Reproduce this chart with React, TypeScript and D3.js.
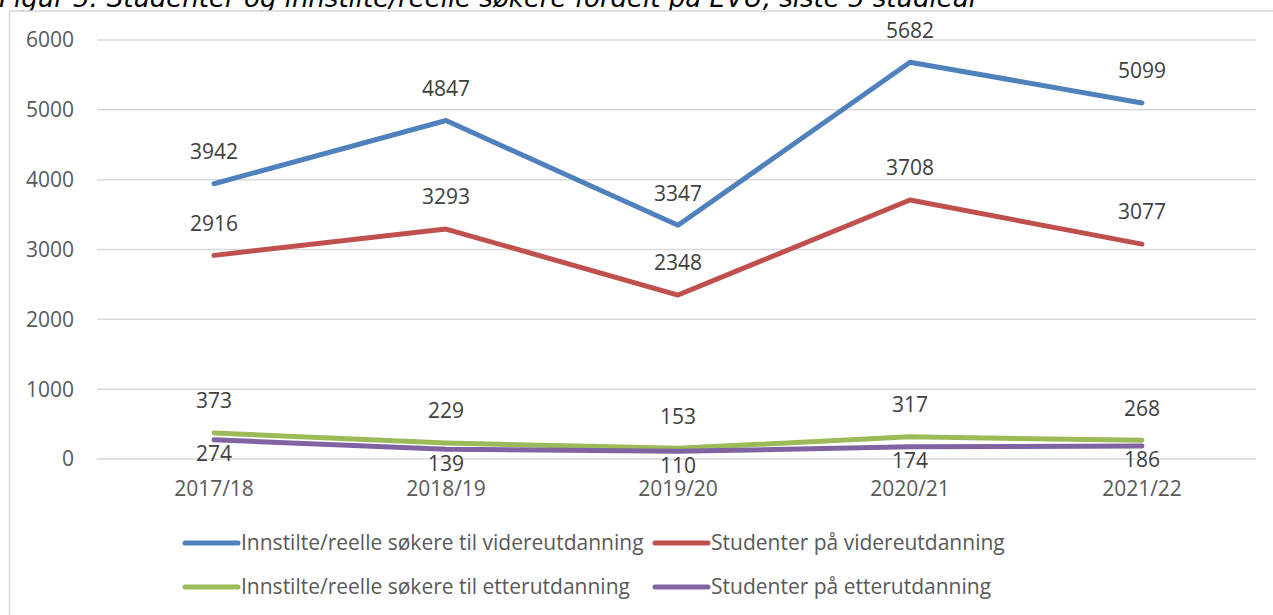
import React from "react";
import * as d3 from "d3";

const years = ["2017/18", "2018/19", "2019/20", "2020/21", "2021/22"];
const soekereVidere = [3942, 4847, 3347, 5682, 5099];
const studenterVidere = [2916, 3293, 2348, 3708, 3077];
const soekereEtter = [373, 229, 153, 317, 268];
const studenterEtter = [274, 139, 110, 174, 186];
const yTicks = [0, 1000, 2000, 3000, 4000, 5000, 6000];

type Series = { name: string; values: number[]; color: string; labelBelow: boolean };

const series: Series[] = [
  { name: "Innstilte/reelle søkere til videreutdanning", values: soekereVidere, color: "#4F81BD", labelBelow: false },
  { name: "Studenter på videreutdanning", values: studenterVidere, color: "#C0504D", labelBelow: false },
  { name: "Innstilte/reelle søkere til etterutdanning", values: soekereEtter, color: "#9BBB59", labelBelow: false },
  { name: "Studenter på etterutdanning", values: studenterEtter, color: "#8064A2", labelBelow: true },
];

const W = 1273;
const H = 615;
const FONT = "'Open Sans', 'DejaVu Sans', sans-serif";
const FS = 21;

export default function App() {
  const x = d3.scaleBand<string>().domain(years).range([98, 1258]).padding(0);
  const cx = (c: string) => (x(c) ?? 0) + x.bandwidth() / 2;
  const y = d3.scaleLinear().domain([0, 6000]).range([459, 40]);

  const line = d3
    .line<number>()
    .x((_, i) => cx(years[i]))
    .y((d) => y(d));

  // Legend layout: two rows, two columns
  const legendCols = [185, 655];
  const legendRows = [543, 587];

  return (
    <div style={{ position: "absolute", left: 0, top: 0 }}>
      <svg width={W} height={H} style={{ display: "block", background: "#fff" }}>
        {/* caption above the chart frame */}
        <text
          x={-1}
          y={7}
          fontFamily="'DejaVu Sans', Verdana, sans-serif"
          fontStyle="italic"
          fontSize={26}
          fill="#000"
        >
          Figur 5: Studenter og innstilte/reelle søkere fordelt på EVU, siste 5 studieår
        </text>

        {/* chart frame */}
        <rect x={9.5} y={11} width={W + 10} height={H + 10} fill="#fff" stroke="#D9D9D9" strokeWidth={1.5} />

        {/* gridlines and y labels */}
        {yTicks.map((t) => (
          <g key={t}>
            <line x1={97} x2={1256} y1={y(t)} y2={y(t)} stroke="#D9D9D9" strokeWidth={1.5} />
            <text
              x={74}
              y={y(t)}
              dy="0.35em"
              textAnchor="end"
              fontFamily={FONT}
              fontSize={FS}
              fill="#595959"
            >
              {t}
            </text>
          </g>
        ))}

        {/* x labels */}
        {years.map((c) => (
          <text
            key={c}
            x={cx(c)}
            y={489}
            dy="0.35em"
            textAnchor="middle"
            fontFamily={FONT}
            fontSize={FS}
            fill="#595959"
          >
            {c}
          </text>
        ))}

        {/* series lines */}
        {series.map((s) => (
          <path
            key={s.name}
            d={line(s.values) ?? ""}
            fill="none"
            stroke={s.color}
            strokeWidth={5}
            strokeLinejoin="round"
            strokeLinecap="round"
          />
        ))}

        {/* value labels */}
        {series.map((s) =>
          s.values.map((v, i) => (
            <text
              key={s.name + i}
              x={cx(years[i])}
              y={y(v) + (s.labelBelow ? 14 : -32)}
              dy="0.35em"
              textAnchor="middle"
              fontFamily={FONT}
              fontSize={FS}
              fill="#404040"
            >
              {v}
            </text>
          ))
        )}

        {/* legend */}
        {series.map((s, i) => {
          const lx = legendCols[i % 2];
          const ly = legendRows[Math.floor(i / 2)];
          return (
            <g key={s.name}>
              <line x1={lx} x2={lx + 53} y1={ly} y2={ly} stroke={s.color} strokeWidth={5} strokeLinecap="round" />
              <text x={lx + 56} y={ly} dy="0.35em" fontFamily={FONT} fontSize={FS} fill="#595959">
                {s.name}
              </text>
            </g>
          );
        })}
      </svg>
    </div>
  );
}
